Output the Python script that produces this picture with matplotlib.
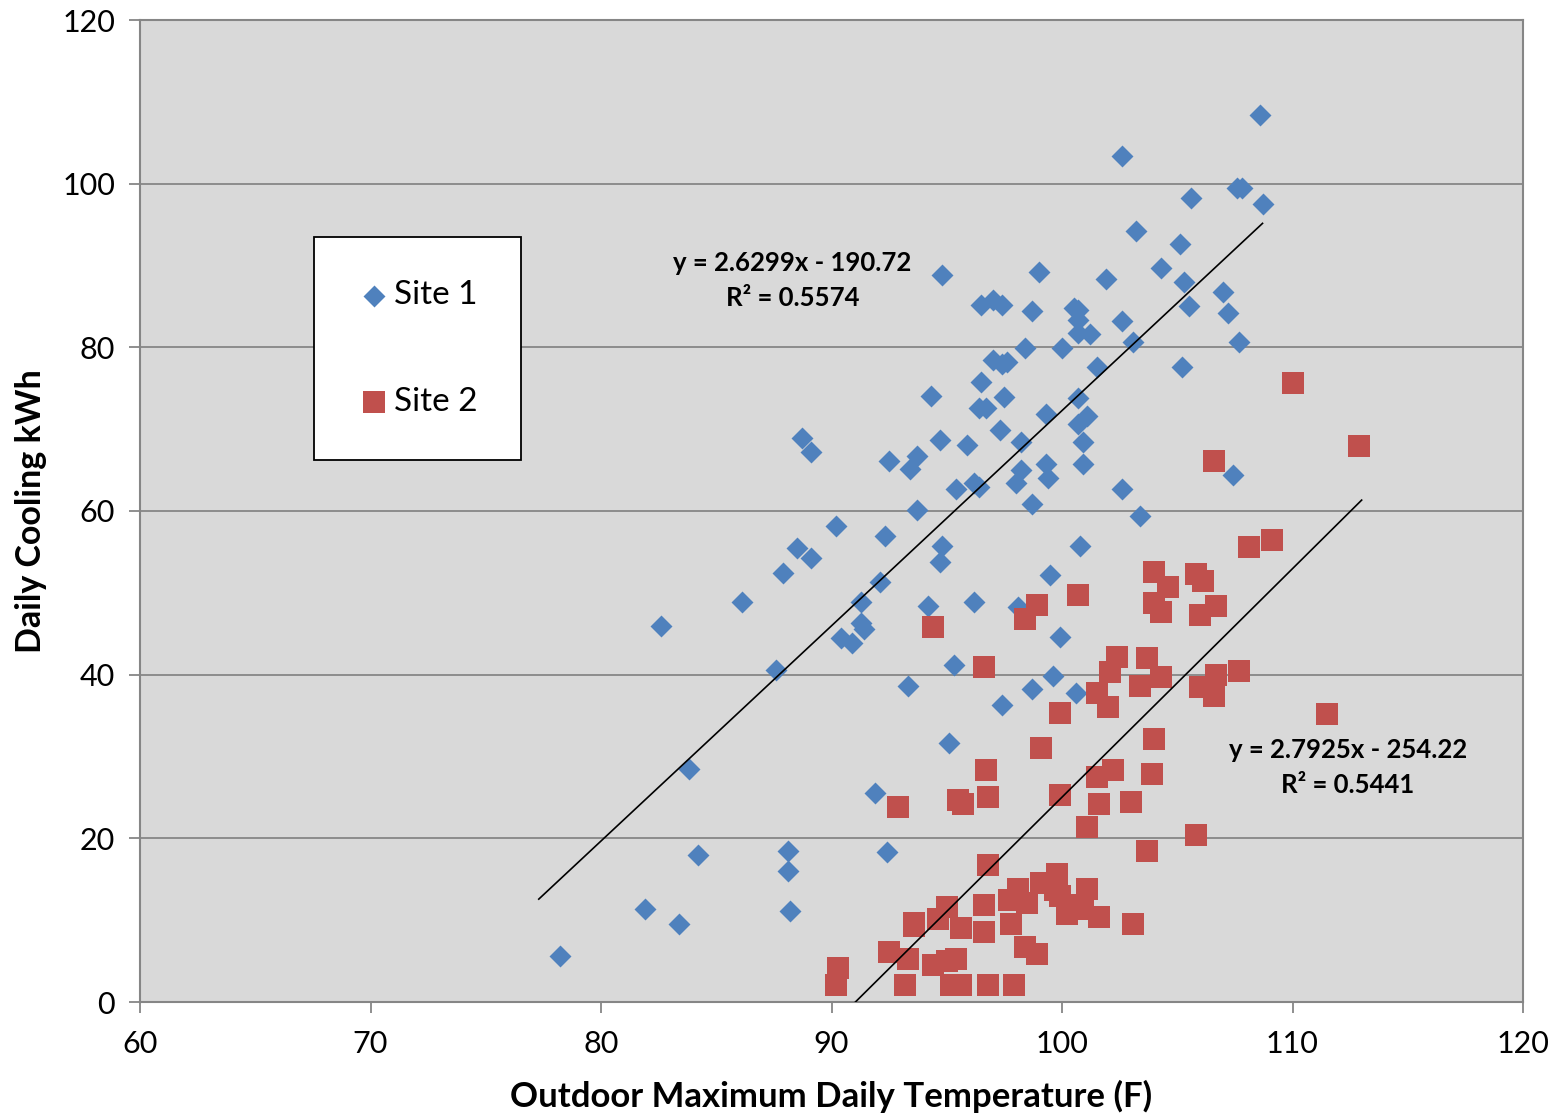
import matplotlib
matplotlib.use("Agg")
import matplotlib.pyplot as plt
import numpy as np

# ---------------- data ----------------
site1_x = [78.2, 81.9, 83.4, 84.2, 83.8, 82.6, 86.1, 87.6, 87.9, 88.5, 89.1, 88.1, 88.1, 88.2,
           88.7, 89.1, 90.2, 90.4, 90.9, 91.3, 91.3, 91.4, 92.1, 92.3, 91.9, 92.4, 92.5, 93.3,
           93.4, 93.7, 93.7, 94.2, 94.3, 94.7, 94.7, 94.8, 94.8, 95.1, 95.3, 95.4, 95.9, 96.2,
           96.2, 96.4, 96.4, 96.5, 96.5, 96.7, 97.0, 97.0, 97.3, 97.4, 97.4, 97.4, 97.6, 97.5,
           98.0, 98.1, 98.2, 98.2, 98.4, 98.7, 98.7, 98.7, 99.0, 99.3, 99.3, 99.4, 99.5, 99.6,
           99.9, 100.0, 100.5, 100.6, 100.7, 100.7, 100.7, 100.7, 100.7, 100.8, 100.9, 100.9,
           101.1, 101.2, 101.5, 101.9, 102.6, 102.6, 102.6, 103.1, 103.2, 103.4, 104.3, 105.1,
           105.3, 105.5, 105.2, 105.6, 107.0, 107.2, 107.4, 107.6, 107.8, 107.7, 108.6, 108.7]
site1_y = [5.6, 11.4, 9.5, 18.0, 28.5, 46.0, 48.9, 40.6, 52.4, 55.5, 54.3, 18.5, 16.0, 11.1,
           68.9, 67.2, 58.2, 44.5, 43.9, 48.9, 46.3, 45.6, 51.3, 57.0, 25.5, 18.3, 66.1, 38.6,
           65.1, 66.7, 60.1, 48.4, 74.1, 68.7, 53.8, 88.8, 55.7, 31.7, 41.2, 62.7, 68.1, 63.4,
           48.9, 62.9, 72.6, 85.2, 75.8, 72.6, 85.8, 78.5, 69.9, 78.0, 85.2, 36.3, 78.2, 73.9,
           63.4, 48.3, 68.4, 65.0, 79.9, 60.9, 84.4, 38.3, 89.2, 71.9, 65.7, 64.0, 52.2, 39.8,
           44.6, 79.9, 84.8, 37.8, 84.6, 70.6, 73.8, 83.3, 81.8, 55.7, 68.4, 65.7,
           71.6, 81.6, 77.6, 88.4, 103.4, 83.2, 62.7, 80.7, 94.2, 59.4, 89.7, 92.6,
           88.0, 85.1, 77.6, 98.3, 86.8, 84.2, 64.4, 99.5, 99.5, 80.7, 108.4, 97.5]

site2_x = [90.2, 90.3, 92.5, 92.9, 93.2, 93.3, 93.6, 93.6, 94.4, 94.4, 94.6, 95.0, 95.0, 95.2,
           95.4, 95.5, 95.6, 95.6, 95.7, 96.6, 96.6, 96.6, 96.7, 96.8, 96.8, 96.8, 97.7, 97.8,
           97.9, 98.1, 98.4, 98.4, 98.5, 98.9, 98.9, 99.1, 99.1, 99.7, 99.8, 99.9, 99.9, 99.9,
           100.2, 100.6, 100.7, 100.9, 101.1, 101.1, 101.5, 101.5, 101.6, 101.6, 102.0, 102.1,
           102.2, 102.4, 103.0, 103.1, 103.4, 103.7, 103.7, 103.9, 104.0, 104.0, 104.0, 104.3,
           104.3, 104.6, 105.8, 105.8, 106.0, 106.0, 106.1, 106.6, 106.6, 106.7, 106.7, 107.7,
           108.1, 109.1, 110.0, 111.5, 112.9]
site2_y = [2.1, 4.2, 6.1, 23.8, 2.1, 5.3, 9.3, 9.6, 4.5, 45.8, 10.1, 5.0, 11.6, 2.1,
           5.3, 24.7, 2.1, 9.1, 24.2, 8.6, 11.8, 40.9, 28.4, 2.1, 16.8, 25.0, 12.5, 9.5,
           2.1, 13.8, 6.7, 46.8, 12.1, 5.9, 48.5, 14.5, 31.0, 13.7, 15.6, 12.9, 25.3, 35.3,
           10.7, 11.8, 49.7, 11.4, 13.8, 21.4, 27.5, 37.7, 10.4, 24.2, 36.0, 40.3,
           28.3, 42.2, 24.5, 9.5, 38.6, 18.5, 42.0, 27.9, 32.1, 48.7, 52.6, 39.7,
           47.7, 50.7, 20.4, 52.3, 38.5, 47.3, 51.5, 66.1, 37.4, 39.9, 48.4, 40.4,
           55.6, 56.4, 75.6, 35.2, 68.0]

# trendlines (slope, intercept, R^2) and x-extent of each fitted line
fit1 = (2.6299, -190.72, 0.5574)
fit2 = (2.7925, -254.22, 0.5441)
fit1_range = [77.3, 108.7]
fit2_range = [90.2, 113.0]

series_names = ["Site 1", "Site 2"]
x_ticks = [60, 70, 80, 90, 100, 110, 120]
y_ticks = [0, 20, 40, 60, 80, 100, 120]
x_label = "Outdoor Maximum Daily Temperature (F)"
y_label = "Daily Cooling kWh"

# ---------------- plot ----------------
plt.rcParams['font.family'] = ['Lato', 'DejaVu Sans']

W, H = 1560, 1120
fig = plt.figure(figsize=(W / 100, H / 100), dpi=100)
ax = fig.add_axes([140 / W, 1 - 1002 / H, 1383 / W, 982 / H])
ax.set_facecolor('#D9D9D9')

ax.set_xlim(60, 120)
ax.set_ylim(0, 120)
ax.set_xticks(x_ticks)
ax.set_yticks(y_ticks)
ax.tick_params(axis='both', labelsize=22, length=8, width=1.3, color='#868686',
               direction='out')
ax.tick_params(axis='x', pad=12)
ax.tick_params(axis='y', pad=10)
for s in ax.spines.values():
    s.set_color('#868686')
    s.set_linewidth(1.5)

ax.yaxis.grid(True, color='#868686', linewidth=1.3)
ax.set_axisbelow(True)

blue = '#4F81BD'
red = '#C0504D'
ax.scatter(site1_x, site1_y, marker='D', s=125, color=blue, linewidths=0, zorder=3,
           label=series_names[0])
ax.scatter(site2_x, site2_y, marker='s', s=250, color=red, linewidths=0, zorder=3,
           label=series_names[1])

xx1 = np.array(fit1_range)
ax.plot(xx1, fit1[0] * xx1 + fit1[1], color='black', linewidth=1.2, zorder=4)
xx2 = np.array(fit2_range)
ax.plot(xx2, fit2[0] * xx2 + fit2[1], color='black', linewidth=1.2, zorder=4, clip_on=True)

ax.text(88.31, 88.2, f"y = {fit1[0]}x - {abs(fit1[1])}\nR² = {fit1[2]}",
        ha='center', va='center', fontsize=18.5, fontweight='bold', linespacing=1.55,
        zorder=5)
ax.text(112.39, 28.6, f"y = {fit2[0]}x - {abs(fit2[1])}\nR² = {fit2[2]}",
        ha='center', va='center', fontsize=18.5, fontweight='bold', linespacing=1.55,
        zorder=5)

ax.set_xlabel(x_label, fontsize=25, fontweight='bold', labelpad=16)
ax.set_ylabel(y_label, fontsize=24.5, fontweight='bold', labelpad=11)

leg = ax.legend(loc='upper left', bbox_to_anchor=((314 - 140) / 1383, (1002 - 237) / 982),
                frameon=True, fancybox=False, fontsize=24, labelspacing=2.3,
                borderpad=1.3, handletextpad=0.1, borderaxespad=0, scatterpoints=1,
                handlelength=1.0, markerscale=1.0)
leg.get_frame().set_edgecolor('black')
leg.get_frame().set_linewidth(1.3)
leg.get_frame().set_facecolor('white')
leg.get_frame().set_alpha(1)

fig.savefig('out.png', dpi=100, facecolor='white')
